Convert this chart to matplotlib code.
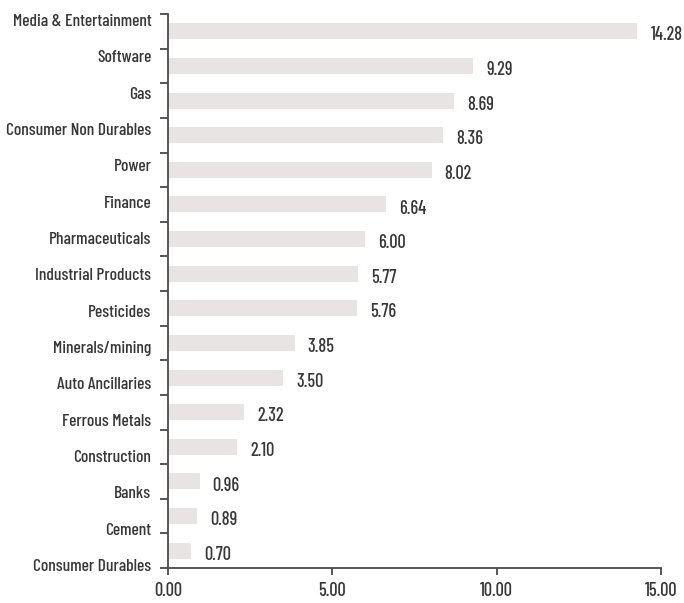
import matplotlib
matplotlib.use("Agg")
import matplotlib.pyplot as plt
import numpy as np

categories = [
    "Media & Entertainment", "Software", "Gas", "Consumer Non Durables",
    "Power", "Finance", "Pharmaceuticals", "Industrial Products",
    "Pesticides", "Minerals/mining", "Auto Ancillaries", "Ferrous Metals",
    "Construction", "Banks", "Cement", "Consumer Durables",
]
values = [14.28, 9.29, 8.69, 8.36, 8.02, 6.64, 6.00, 5.77,
          5.76, 3.85, 3.50, 2.32, 2.10, 0.96, 0.89, 0.70]
x_ticks = [0, 5, 10, 15]
x_tick_labels = ["0.00", "5.00", "10.00", "15.00"]

plt.rcParams["font.family"] = ["Barlow Condensed", "DejaVu Sans"]
plt.rcParams["font.weight"] = 500

text_color = "#383838"
axis_color = "#4a4a4a"
bar_color = "#e8e4e4"
fs_cat = 12.6
fs_num = 13.2

fig = plt.figure(figsize=(6.84, 6.03), dpi=100)
ax = fig.add_axes([168 / 684, 35 / 603, (661 - 168) / 684, (568 - 14) / 603])

n = len(categories)
pos = np.arange(n)
ax.barh(pos, values, height=0.46, color=bar_color, zorder=2)

for p, v in zip(pos, values):
    ax.text(v + 0.4, p + 0.12, f"{v:.2f}", ha="left", va="center",
            fontsize=fs_num, color=text_color)

ax.set_ylim(n - 0.5, -0.5)
ax.set_xlim(0, 15)

# Category labels spread evenly between the first and last boundary ticks
label_pos = -0.327 + 1.0493 * pos
ax.set_yticks(label_pos)
ax.set_yticklabels(categories, fontsize=fs_cat, color=text_color)
ax.tick_params(axis="y", which="major", length=0, pad=12)
ax.set_yticks(np.arange(-0.5, n, 1.0), minor=True)
ax.tick_params(axis="y", which="minor", length=6, width=1.3, color=axis_color,
               direction="out")

ax.set_xticks(x_ticks)
ax.set_xticklabels(x_tick_labels, fontsize=fs_num, color=text_color)
ax.tick_params(axis="x", length=5, width=1.3, color=axis_color,
               direction="out", pad=5)

for side in ("top", "right"):
    ax.spines[side].set_visible(False)
for side in ("left", "bottom"):
    ax.spines[side].set_color(axis_color)
    ax.spines[side].set_linewidth(1.3)

fig.savefig("out.png", dpi=100)
